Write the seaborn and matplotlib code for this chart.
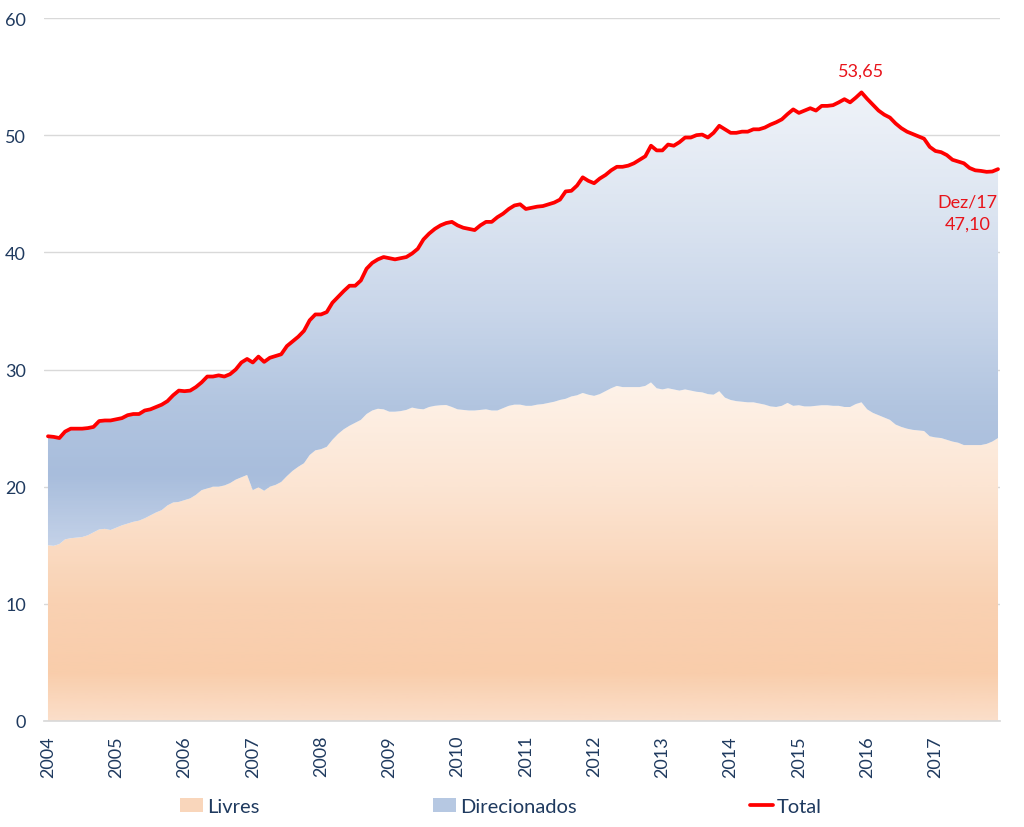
import numpy as np
import pandas as pd
import matplotlib
matplotlib.use("Agg")
import matplotlib.pyplot as plt
from matplotlib.colors import LinearSegmentedColormap
from matplotlib.patches import Patch
from matplotlib.lines import Line2D
import seaborn as sns

# monthly values, Jan/2004 .. Dez/2017
total = [
    24.3, 24.25, 24.15, 24.7, 24.95, 24.95, 24.95, 25.0, 25.1, 25.6, 25.65, 25.65,
    25.75, 25.85, 26.1, 26.2, 26.2, 26.5, 26.6, 26.8, 27.0, 27.3, 27.8, 28.2,
    28.15, 28.2, 28.5, 28.9, 29.4, 29.4, 29.5, 29.4, 29.6, 30.0, 30.6, 30.9,
    30.6, 31.1, 30.65, 31.0, 31.15, 31.3, 32.0, 32.4, 32.8, 33.3, 34.2, 34.7,
    34.7, 34.9, 35.7, 36.2, 36.7, 37.15, 37.15, 37.6, 38.6, 39.1, 39.4, 39.6,
    39.5, 39.4, 39.5, 39.6, 39.9, 40.3, 41.1, 41.6, 42.0, 42.3, 42.5, 42.6,
    42.3, 42.1, 42.0, 41.9, 42.3, 42.6, 42.6, 43.0, 43.3, 43.7, 44.0, 44.1,
    43.7, 43.8, 43.9, 43.95, 44.1, 44.25, 44.5, 45.2, 45.25, 45.7, 46.4, 46.1,
    45.9, 46.3, 46.6, 47.0, 47.3, 47.3, 47.4, 47.6, 47.9, 48.2, 49.1, 48.7,
    48.7, 49.2, 49.1, 49.4, 49.8, 49.8, 50.0, 50.05, 49.8, 50.2, 50.8, 50.5,
    50.2, 50.2, 50.3, 50.3, 50.5, 50.5, 50.65, 50.9, 51.1, 51.35, 51.8, 52.2,
    51.9, 52.1, 52.3, 52.1, 52.5, 52.5, 52.56, 52.8, 53.07, 52.8, 53.2, 53.65,
    53.1, 52.6, 52.1, 51.75, 51.5, 51.0, 50.6, 50.3, 50.1, 49.9, 49.7, 49.0,
    48.65, 48.55, 48.3, 47.9, 47.75, 47.6, 47.2, 47.0, 46.95, 46.87, 46.9, 47.10,
]
livres = [
    15.0, 14.95, 15.1, 15.5, 15.6, 15.65, 15.7, 15.85, 16.1, 16.35, 16.4, 16.3,
    16.5, 16.7, 16.85, 17.0, 17.1, 17.3, 17.55, 17.8, 18.0, 18.4, 18.65, 18.7,
    18.85, 19.0, 19.3, 19.7, 19.85, 20.0, 20.0, 20.1, 20.3, 20.6, 20.8, 21.0,
    19.7, 19.95, 19.65, 20.0, 20.15, 20.4, 20.9, 21.35, 21.7, 22.0, 22.7, 23.1,
    23.2, 23.4, 24.0, 24.5, 24.9, 25.2, 25.45, 25.7, 26.2, 26.5, 26.65, 26.6,
    26.4, 26.4, 26.45, 26.55, 26.75, 26.65, 26.6, 26.8, 26.9, 26.95, 26.97, 26.8,
    26.6, 26.55, 26.5, 26.5, 26.55, 26.6, 26.5, 26.5, 26.7, 26.9, 27.0, 27.0,
    26.9, 26.9, 27.0, 27.05, 27.15, 27.25, 27.4, 27.5, 27.7, 27.8, 28.0, 27.85,
    27.75, 27.9, 28.15, 28.4, 28.6, 28.5, 28.5, 28.5, 28.5, 28.6, 28.9, 28.4,
    28.3, 28.4, 28.3, 28.2, 28.3, 28.2, 28.1, 28.05, 27.9, 27.85, 28.15, 27.6,
    27.4, 27.3, 27.25, 27.2, 27.2, 27.1, 27.0, 26.85, 26.8, 26.9, 27.15, 26.9,
    26.95, 26.85, 26.85, 26.9, 26.95, 26.95, 26.9, 26.9, 26.8, 26.8, 27.05, 27.2,
    26.6, 26.3, 26.1, 25.9, 25.7, 25.3, 25.1, 24.95, 24.85, 24.8, 24.75, 24.3,
    24.2, 24.15, 24.0, 23.85, 23.75, 23.55, 23.55, 23.55, 23.55, 23.65, 23.85, 24.15,
]
years = list(range(2004, 2018))

df = pd.DataFrame({"mes": np.arange(len(total)), "Livres": livres, "Total": total})
df["Direcionados"] = df["Total"] - df["Livres"]

sns.set_theme(style="white")
plt.rcParams["font.family"] = ["Lato", "DejaVu Sans"]
txt_color = "#1F3A5F"
red = "#FF0000"

fig = plt.figure(figsize=(10.24, 8.28), dpi=100)
ax = fig.add_axes([44 / 1024, 1 - 722 / 828, 956 / 1024, 703 / 828])

x0, x1 = -0.7, len(df) - 1 + 0.35
ymax = 60

# gradient colour stops by value (Excel-like gradient fills)
orange_stops = [(0, "#FBDEC9"), (4, "#F9CDAB"), (10, "#F9D1B2"), (20, "#FCE5D3"),
                (29, "#FEF3EA"), (60, "#FFF8F2")]
blue_stops = [(0, "#D0DCEE"), (14, "#C8D5EA"), (21, "#A8BDDC"), (27, "#B2C5E0"),
              (35, "#C9D6EA"), (45, "#DFE7F2"), (54, "#F0F3F9"), (60, "#F4F6FB")]


def gradient_fill(lo, hi, stops):
    cmap = LinearSegmentedColormap.from_list("g", [(v / ymax, c) for v, c in stops])
    grad = np.linspace(0, ymax, 600).reshape(-1, 1)
    im = ax.imshow(grad, cmap=cmap, aspect="auto", origin="lower",
                   extent=[x0, x1, 0, ymax], vmin=0, vmax=ymax, zorder=1)
    poly = ax.fill_between(df["mes"], lo, hi, facecolor="none", edgecolor="none", zorder=1)
    im.set_clip_path(poly.get_paths()[0], transform=ax.transData)


gradient_fill(np.zeros(len(df)), df["Livres"], orange_stops)
gradient_fill(df["Livres"], df["Total"], blue_stops)

sns.lineplot(data=df, x="mes", y="Total", color=red, linewidth=2.7, ax=ax, zorder=3)

ax.set_xlim(x0, x1)
ax.set_ylim(0, ymax)
ax.set_yticks(range(0, 61, 10))
ax.yaxis.grid(True, color="#D9D9D9", linewidth=1)
ax.set_axisbelow(True)
for s in ["top", "right", "left"]:
    ax.spines[s].set_visible(False)
ax.spines["bottom"].set_color("#D9D9D9")
ax.set_xticks([12 * i for i in range(len(years))])
ax.set_xticklabels([str(y) for y in years], rotation=90)
ax.tick_params(axis="x", length=0, pad=10, labelsize=13, labelcolor=txt_color)
ax.tick_params(axis="y", length=0, pad=13, labelsize=13, labelcolor=txt_color)
ax.set_xlabel("")
ax.set_ylabel("")

# data labels
imax = int(df["Total"].idxmax())
ax.text(df["mes"][imax], df["Total"][imax] + 1.9, "53,65", color="#E8141B",
        fontsize=13, ha="center", va="center")
ax.text(df["mes"].iloc[-1] - 5.3, df["Total"].iloc[-1] - 3.7, "Dez/17\n47,10",
        color="#E8141B", fontsize=13, ha="center", va="center", linespacing=1.45)

handles = [
    Patch(facecolor="#F9D6BB", edgecolor="none"),
    Patch(facecolor="#B6C8E2", edgecolor="none"),
    Line2D([0], [0], color=red, linewidth=2.7),
]
fig.legend(handles, ["Livres", "Direcionados", "Total"], loc="center",
           bbox_to_anchor=(0.489, 0.025), ncol=3, frameon=False, fontsize=14.5,
           handlelength=1.15, handleheight=0.7, handletextpad=0.2, columnspacing=8.6,
           labelcolor=txt_color)

fig.savefig("out.png", dpi=100)
